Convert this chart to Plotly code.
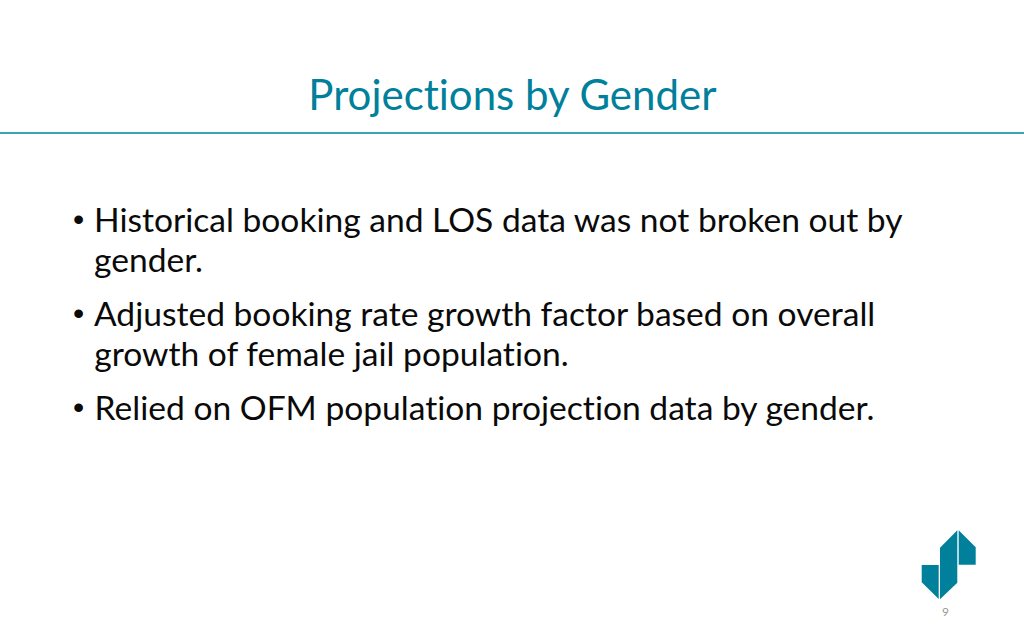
import plotly.graph_objects as go

title = "Projections by Gender"
body_lines = [
    "Historical booking and LOS data was not broken out by",
    "gender.",
    "Adjusted booking rate growth factor based on overall",
    "growth of female jail population.",
    "Relied on OFM population projection data by gender.",
]
has_bullet = [True, False, True, False, True]
page_number = "9"

TEAL = "#00809b"
body_y = [218.5, 258.5, 312.5, 352.5, 406.5]

fig = go.Figure()

fig.add_annotation(x=512.5, y=94, text=title, showarrow=False, xanchor="center", yanchor="middle",
                   font=dict(family="Lato", size=42, color=TEAL))

for line, bullet, y in zip(body_lines, has_bullet, body_y):
    fig.add_annotation(x=92, y=y, text=line, showarrow=False, xanchor="left", yanchor="middle",
                       font=dict(family="Lato", size=33.6, color="#0a0a0a"))
    if bullet:
        fig.add_annotation(x=71, y=y, text="•", showarrow=False, xanchor="left", yanchor="middle",
                           font=dict(family="Liberation Sans", size=32, color="#0a0a0a"))

fig.add_annotation(x=945, y=611, text=page_number, showarrow=False, xanchor="center", yanchor="middle",
                   font=dict(family="Lato", size=12, color="#999999"))

# rule under the title
fig.add_shape(type="line", x0=0, x1=1024, y0=133, y1=133, line=dict(color="#00809b", width=1.3))

# logo
logo = [
    "M 921.7 565 L 938.7 565 L 938.7 599 L 921.7 582.3 Z",
    "M 940 547.7 L 957.3 530.3 L 957.3 582.7 L 940 599.3 Z",
    "M 958.7 530.3 L 975.7 547.3 L 975.7 564.7 L 958.7 564.7 Z",
]
for p in logo:
    fig.add_shape(type="path", path=p, fillcolor=TEAL, line=dict(width=0))

fig.update_layout(
    width=1024, height=640,
    margin=dict(l=0, r=0, t=0, b=0),
    paper_bgcolor="white", plot_bgcolor="white",
    showlegend=False,
    xaxis=dict(range=[0, 1024], visible=False, fixedrange=True),
    yaxis=dict(range=[640, 0], visible=False, fixedrange=True),
)

# page margin off, no ti ligatures in the slide text
page_css = """
var s = document.createElement('style');
s.textContent = 'html,body{margin:0;padding:0;overflow:hidden} text{font-variant-ligatures:none !important}';
document.head.appendChild(s);
"""
fig.write_html("out.html", post_script=page_css, config={"displayModeBar": False})
